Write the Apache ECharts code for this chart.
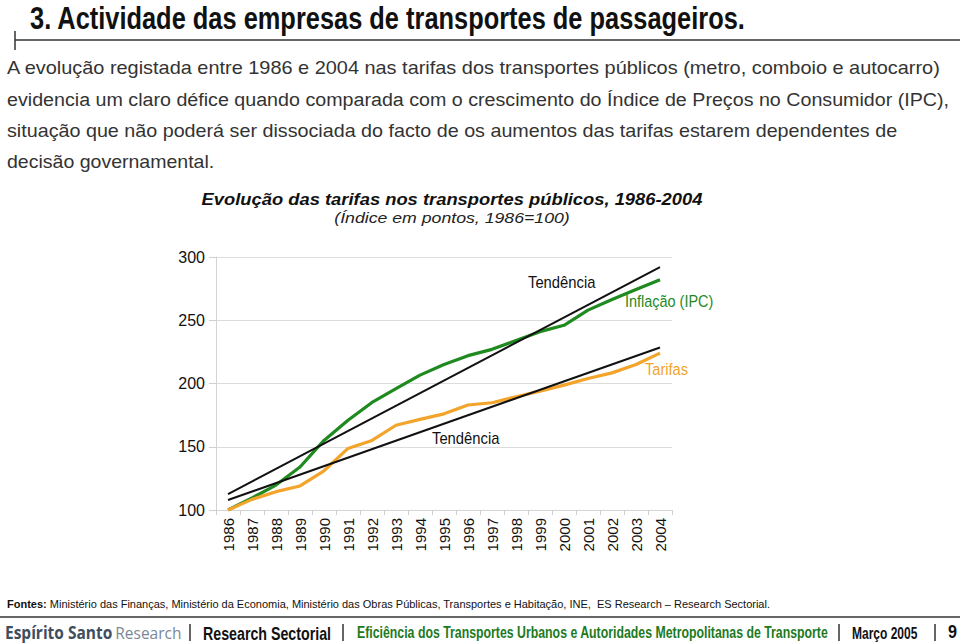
<!DOCTYPE html>
<html>
<head>
<meta charset="utf-8">
<script src="https://cdn.jsdelivr.net/npm/echarts@6/dist/echarts.min.js"></script>
<style>
html,body{margin:0;padding:0;background:#fff;}
#c{width:960px;height:644px;}
</style>
</head>
<body>
<div id="c"></div>
<script>
// ---- data ----
const years = ['1986','1987','1988','1989','1990','1991','1992','1993','1994','1995','1996','1997','1998','1999','2000','2001','2002','2003','2004'];
const inflacao = [100,109.5,119.7,134,155,171,185,196,206.6,215,222,227,234,241,246,258,266.4,274.3,282];
const tarifas = [100,108.4,114.5,119,131,148.7,155,167,171.6,176,183,184.8,189.5,194,198.7,204,208.4,215,224];
const tendInflacao = [112.6, 292];   // trend values at first and last year
const tendTarifas = [107.9, 228.5];
const yMin = 100, yMax = 300, yStep = 50;

const SANS = '"Liberation Sans",Arial,Helvetica,sans-serif';
const GREEN = '#1f8a1f';
const ORANGE = '#f3a42a';

const chart = echarts.init(document.getElementById('c'), null, {renderer:'svg'});

// text, optionally horizontally scaled (condensed / expanded)
function txt(text, x, y, font, fill, align, sx){
  return {type:'group', x:x, y:y, scaleX:sx||1, silent:true, children:[
    {type:'text', x:0, y:0, silent:true,
     style:{text:text, font:font, fill:fill, textAlign:align||'left', textVerticalAlign:'middle'}}]};
}
function ln(x1,y1,x2,y2,color,w){
  return {type:'line', silent:true, shape:{x1:x1,y1:y1,x2:x2,y2:y2}, style:{stroke:color, lineWidth:w}};
}

const para = [
  'A evolução registada entre 1986 e 2004 nas tarifas dos transportes públicos (metro, comboio e autocarro)',
  'evidencia um claro défice quando comparada com o crescimento do Índice de Preços no Consumidor (IPC),',
  'situação que não poderá ser dissociada do facto de os aumentos das tarifas estarem dependentes de',
  'decisão governamental.'
];
const paraScale = [1.107, 1.093, 1.096, 1.085];

const graphics = [
  txt('3. Actividade das empresas de transportes de passageiros.', 30, 18, 'bold 31px '+SANS, '#111', 'left', 0.82),
  ln(15, 40, 960, 40, '#333', 1.5),
  ln(15, 31, 15, 50, '#333', 1.5),
  txt('Evolução das tarifas nos transportes públicos, 1986-2004', 452, 199, 'italic bold 17px '+SANS, '#111', 'center', 1.08),
  txt('(Índice em pontos, 1986=100)', 452, 218, 'italic 15px '+SANS, '#222', 'center', 1.18),
  txt('Tendência', 528, 282, '17px '+SANS, '#111', 'left', 0.87),
  txt('Inflação (IPC)', 625, 301, '17px '+SANS, GREEN, 'left', 0.85),
  txt('Tarifas', 645, 369, '17px '+SANS, ORANGE, 'left', 0.86),
  txt('Tendência', 432, 438, '17px '+SANS, '#111', 'left', 0.87),
  // footer
  {type:'text', x:7, y:604, silent:true, style:{
    text:'{b|Fontes:} Ministério das Finanças, Ministério da Economia, Ministério das Obras Públicas, Transportes e Habitação, INE,  ES Research – Research Sectorial.',
    font:'11px '+SANS, fill:'#111', textVerticalAlign:'middle',
    rich:{b:{fontWeight:'bold', fontSize:11, fontFamily:SANS, fill:'#111'}}}},
  ln(0, 617, 960, 617, '#333', 1.5),
  {type:'group', x:5, y:633, scaleX:0.91, silent:true, children:[
    {type:'text', x:0, y:0, silent:true, style:{
      text:'{a|Espírito Santo} {r|Research}', textVerticalAlign:'middle',
      rich:{a:{fontWeight:'bold', fontSize:17, fontFamily:'"Open Sans",sans-serif', fill:'#3e4e5e'},
            r:{fontSize:17, fontFamily:'"Open Sans",sans-serif', fill:'#7a8896'}}}}]},
  ln(190, 624, 190, 641, '#333', 1.5),
  txt('Research Sectorial', 203, 633, 'bold 18px '+SANS, '#111', 'left', 0.79),
  ln(343, 624, 343, 641, '#333', 1.5),
  txt('Eficiência dos Transportes Urbanos e Autoridades Metropolitanas de Transporte', 357, 632, 'bold 16px '+SANS, '#1e7a1e', 'left', 0.77),
  ln(839, 624, 839, 641, '#333', 1.5),
  txt('Março 2005', 852, 633, 'bold 16px '+SANS, '#111', 'left', 0.75),
  ln(935, 624, 935, 641, '#333', 1.5),
  txt('9', 948, 632, 'bold 18px '+SANS, '#111', 'left', 0.9)
];
para.forEach(function(s,i){ graphics.push(txt(s, 7, 68 + i*31.3, '18px '+SANS, '#333', 'left', paraScale[i])); });

chart.setOption({
  animation:false,
  backgroundColor:'#fff',
  grid:{left:216, right:288, top:257, bottom:134, containLabel:false},
  xAxis:{
    type:'category', data:years, boundaryGap:true,
    axisLine:{lineStyle:{color:'#d4d4d4', width:1}},
    axisTick:{show:true, length:5, lineStyle:{color:'#cfcfcf'}},
    axisLabel:{rotate:90, fontSize:15, fontFamily:SANS, color:'#111', margin:8, interval:0}
  },
  yAxis:{
    type:'value', min:yMin, max:yMax, interval:yStep,
    axisLine:{show:true, lineStyle:{color:'#d4d4d4'}},
    axisTick:{show:true, length:7, lineStyle:{color:'#cfcfcf'}},
    axisLabel:{fontSize:16, fontFamily:SANS, color:'#111', margin:11},
    splitLine:{lineStyle:{color:'#dcdcdc'}}
  },
  series:[
    {type:'line', data:[[years[0],tendInflacao[0]],[years[years.length-1],tendInflacao[1]]], symbol:'none', lineStyle:{color:'#111', width:2}, z:3},
    {type:'line', data:[[years[0],tendTarifas[0]],[years[years.length-1],tendTarifas[1]]], symbol:'none', lineStyle:{color:'#111', width:2}, z:3},
    {type:'line', data:inflacao, symbol:'none', lineStyle:{color:GREEN, width:3.2}, z:2},
    {type:'line', data:tarifas, symbol:'none', lineStyle:{color:ORANGE, width:3.2}, z:2}
  ],
  graphic:graphics
});
</script>
</body>
</html>
